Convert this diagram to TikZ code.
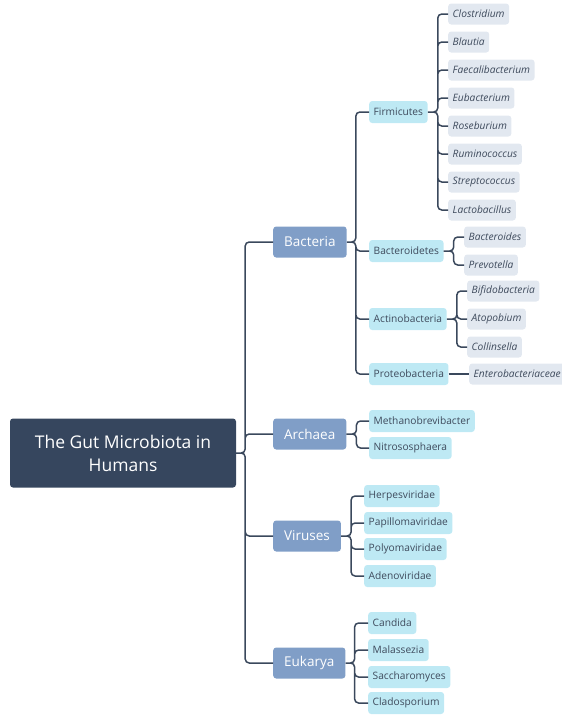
\documentclass[tikz,border=0pt]{standalone}
\usepackage{fontspec}
\setmainfont{Open Sans}
\usetikzlibrary{positioning}
\definecolor{rootc}{RGB}{54,70,94}
\definecolor{mainc}{RGB}{128,158,199}
\definecolor{subc}{RGB}{190,233,244}
\definecolor{leafc}{RGB}{226,232,240}
\definecolor{linec}{RGB}{58,72,92}
\definecolor{textc}{RGB}{62,74,92}

\begin{document}
\begin{tikzpicture}[x=1pt,y=-1pt,
  root/.style={fill=rootc,text=white,rounded corners=3pt,minimum width=226pt,minimum height=69pt,
    align=center,font=\fontsize{17.5}{23}\selectfont},
  main/.style={fill=mainc,text=white,rounded corners=3pt,minimum height=31pt,inner xsep=11pt,
    anchor=west,font=\fontsize{13.5}{15}\selectfont},
  sub/.style={fill=subc,text=textc,rounded corners=3pt,minimum height=22pt,inner xsep=4.5pt,
    anchor=west,font=\fontsize{10.2}{12}\selectfont},
  leaf/.style={fill=leafc,text=textc,rounded corners=3pt,minimum height=21pt,inner xsep=4.5pt,
    anchor=west,font=\fontsize{10.2}{12}\selectfont\itshape},
  conn/.style={draw=linec,line width=1.5pt,rounded corners=4pt}]
\useasboundingbox (0,0) rectangle (562,715);

\node[root] (gut) at (123,453) {The Gut Microbiota in\\Humans};

\node[main] (bac) at (273,242) {Bacteria};
\node[main] (arc) at (273,434) {Archaea};
\node[main] (vir) at (273,536) {Viruses};
\node[main] (euk) at (273,663) {Eukarya};

% bacteria
\node[sub] (fir) at (369,112) {Firmicutes};
\node[sub] (bdt) at (369,251) {Bacteroidetes};
\node[sub] (act) at (369,319) {Actinobacteria};
\node[sub] (pro) at (369,374) {Proteobacteria};

\node[leaf] (clo) at (448,14) {Clostridium};
\node[leaf] (bla) at (448,42) {Blautia};
\node[leaf] (fae) at (448,70) {Faecalibacterium};
\node[leaf] (eub) at (448,98) {Eubacterium};
\node[leaf] (ros) at (448,126) {Roseburium};
\node[leaf] (rum) at (448,154) {Ruminococcus};
\node[leaf] (str) at (448,182) {Streptococcus};
\node[leaf] (lac) at (448,210) {Lactobacillus};

\node[leaf] (bdd) at (464,237) {Bacteroides};
\node[leaf] (pre) at (464,265) {Prevotella};

\node[leaf] (bif) at (467,291) {Bifidobacteria};
\node[leaf] (ato) at (467,319) {Atopobium};
\node[leaf] (col) at (467,347) {Collinsella};

\node[leaf] (ent) at (469,374) {Enterobacteriaceae};

% archaea
\node[sub] (met) at (369,421) {Methanobrevibacter};
\node[sub] (nit) at (369,448) {Nitrososphaera};

% viruses
\node[sub] (her) at (364,496) {Herpesviridae};
\node[sub] (pap) at (364,523) {Papillomaviridae};
\node[sub] (pol) at (364,549) {Polyomaviridae};
\node[sub] (ade) at (364,576) {Adenoviridae};

% eukarya
\node[sub] (can) at (368,623) {Candida};
\node[sub] (mal) at (368,650) {Malassezia};
\node[sub] (sac) at (368,677) {Saccharomyces};
\node[sub] (cla) at (368,703) {Cladosporium};

\draw[conn] (gut.east) -- ++(9,0) |- (bac.west)
  (gut.east) -- ++(9,0) |- (arc.west)
  (gut.east) -- ++(9,0) |- (vir.west)
  (gut.east) -- ++(9,0) |- (euk.west);

\draw[conn] (bac.east) -- ++(9,0) |- (fir.west)
  (bac.east) -- ++(9,0) |- (bdt.west)
  (bac.east) -- ++(9,0) |- (act.west)
  (bac.east) -- ++(9,0) |- (pro.west);

\draw[conn] (fir.east) -- ++(10,0) |- (clo.west)
  (fir.east) -- ++(10,0) |- (bla.west)
  (fir.east) -- ++(10,0) |- (fae.west)
  (fir.east) -- ++(10,0) |- (eub.west)
  (fir.east) -- ++(10,0) |- (ros.west)
  (fir.east) -- ++(10,0) |- (rum.west)
  (fir.east) -- ++(10,0) |- (str.west)
  (fir.east) -- ++(10,0) |- (lac.west);

\draw[conn] (bdt.east) -- ++(10,0) |- (bdd.west)
  (bdt.east) -- ++(10,0) |- (pre.west);
\draw[conn] (act.east) -- ++(10,0) |- (bif.west)
  (act.east) -- ++(10,0) |- (ato.west)
  (act.east) -- ++(10,0) |- (col.west);
\draw[conn] (pro.east) -- (ent.west);

\draw[conn] (arc.east) -- ++(10,0) |- (met.west)
  (arc.east) -- ++(10,0) |- (nit.west);

\draw[conn] (vir.east) -- ++(10,0) |- (her.west)
  (vir.east) -- ++(10,0) |- (pap.west)
  (vir.east) -- ++(10,0) |- (pol.west)
  (vir.east) -- ++(10,0) |- (ade.west);

\draw[conn] (euk.east) -- ++(9,0) |- (can.west)
  (euk.east) -- ++(9,0) |- (mal.west)
  (euk.east) -- ++(9,0) |- (sac.west)
  (euk.east) -- ++(9,0) |- (cla.west);
\end{tikzpicture}
\end{document}
